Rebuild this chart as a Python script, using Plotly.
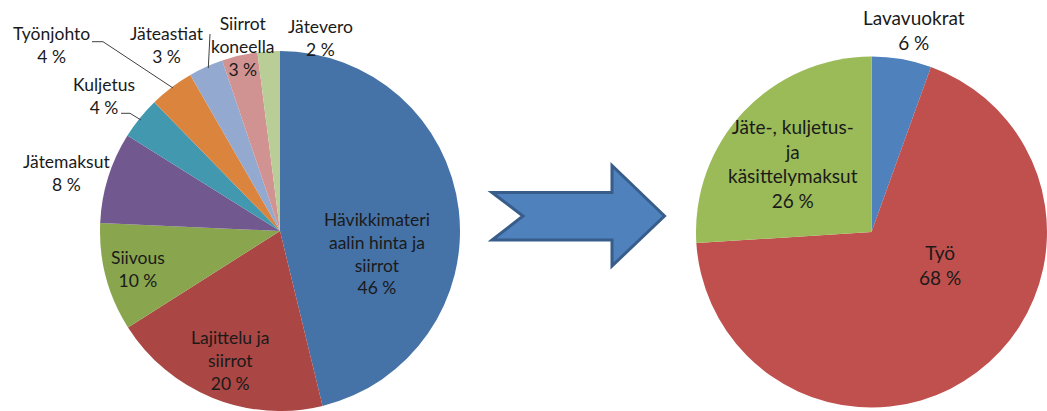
import plotly.graph_objects as go

W, H = 1047, 411

# ---- data ----
left_labels = ["Hävikkimateriaalin hinta ja siirrot", "Lajittelu ja siirrot", "Siivous",
               "Jätemaksut", "Kuljetus", "Työnjohto", "Jäteastiat", "Siirrot koneella", "Jätevero"]
left_values = [46.2, 19.8, 9.7, 8.2, 3.8, 4.0, 3.1, 3.2, 2.0]
left_pct = [46, 20, 10, 8, 4, 4, 3, 3, 2]
left_colors = ["#4572A7", "#AA4643", "#89A54E", "#71588F", "#4198AF",
               "#DB843D", "#93A9CF", "#D19392", "#B9CD96"]

right_labels = ["Lavavuokrat", "Työ", "Jäte-, kuljetus- ja käsittelymaksut"]
right_values = [5.5, 68.5, 26.0]
right_pct = [6, 68, 26]
right_colors = ["#4F81BD", "#C0504D", "#9BBB59"]


def px(x):
    return x / W


def py(y):
    return 1 - y / H


fig = go.Figure()
fig.add_trace(go.Pie(
    labels=left_labels, values=left_values, sort=False, direction="clockwise", rotation=0,
    marker=dict(colors=left_colors, line=dict(width=0)), textinfo="none", hoverinfo="label+percent",
    domain=dict(x=[px(100), px(460)], y=[0, py(51)]), showlegend=False,
))
fig.add_trace(go.Pie(
    labels=right_labels, values=right_values, sort=False, direction="clockwise", rotation=0,
    marker=dict(colors=right_colors, line=dict(width=0)), textinfo="none", hoverinfo="label+percent",
    domain=dict(x=[px(696), 1], y=[py(407.5), py(56.5)]), showlegend=False,
))

FONT = "Lato"
TXT = "#1a1a1a"
ann = []


def label(text, x, y, size=17.5):
    ann.append(dict(text=text, x=px(x), y=py(y), xref="paper", yref="paper",
                    xanchor="center", yanchor="middle", showarrow=False,
                    font=dict(family=FONT, size=size, color=TXT)))


# left pie labels (text split into lines as in the original)
label(f"Hävikkimateri<br>aalin hinta ja<br>siirrot<br>{left_pct[0]} %", 377, 253)
label(f"Lajittelu ja<br>siirrot<br>{left_pct[1]} %", 230, 360)
label(f"{left_labels[2]}<br>{left_pct[2]} %", 138, 268.5)
label(f"{left_labels[3]}<br>{left_pct[3]} %", 66, 172.5)
label(f"{left_labels[4]}<br>{left_pct[4]} %", 104, 96)
label(f"{left_labels[5]}<br>{left_pct[5]} %", 51, 45)
label(f"{left_labels[6]}<br>{left_pct[6]} %", 167, 45)
label(f"Siirrot<br>koneella<br>{left_pct[7]} %", 243, 47)
label(f"{left_labels[8]}<br>{left_pct[8]} %", 320, 38)

# right pie labels
label(f"{right_labels[0]}<br>{right_pct[0]} %", 914, 30, 19)
label(f"Jäte-, kuljetus-<br>ja<br>käsittelymaksut<br>{right_pct[2]} %", 793, 163, 19)
label(f"{right_labels[1]}<br>{right_pct[1]} %", 940, 264.5, 19)


def path(pts, closed=False):
    s = "M " + " L ".join(f"{px(x)},{py(y)}" for x, y in pts)
    return s + (" Z" if closed else "")


shapes = []
lc = dict(color="#404040", width=1)
shapes.append(dict(type="path", xref="paper", yref="paper", path=path([(92, 41.7), (103, 41.7), (173, 88)]), line=lc))
shapes.append(dict(type="path", xref="paper", yref="paper", path=path([(210, 34), (208.3, 68)]), line=lc))
shapes.append(dict(type="path", xref="paper", yref="paper", path=path([(121, 113.3), (130, 113.3), (141, 120)]), line=lc))

# block arrow between the pies
arrow = [(492, 192.5), (523, 216), (492, 240), (612, 240), (612, 266),
         (664.5, 216), (612, 165.5), (612, 192.5)]
shapes.append(dict(type="path", xref="paper", yref="paper", path=path(arrow, closed=True),
                   fillcolor="#4F81BD", line=dict(color="#385D8A", width=3)))

fig.update_layout(
    width=W, height=H, margin=dict(l=0, r=0, t=0, b=0),
    paper_bgcolor="white", plot_bgcolor="white",
    annotations=ann, shapes=shapes,
)
fig.write_html("out.html")
